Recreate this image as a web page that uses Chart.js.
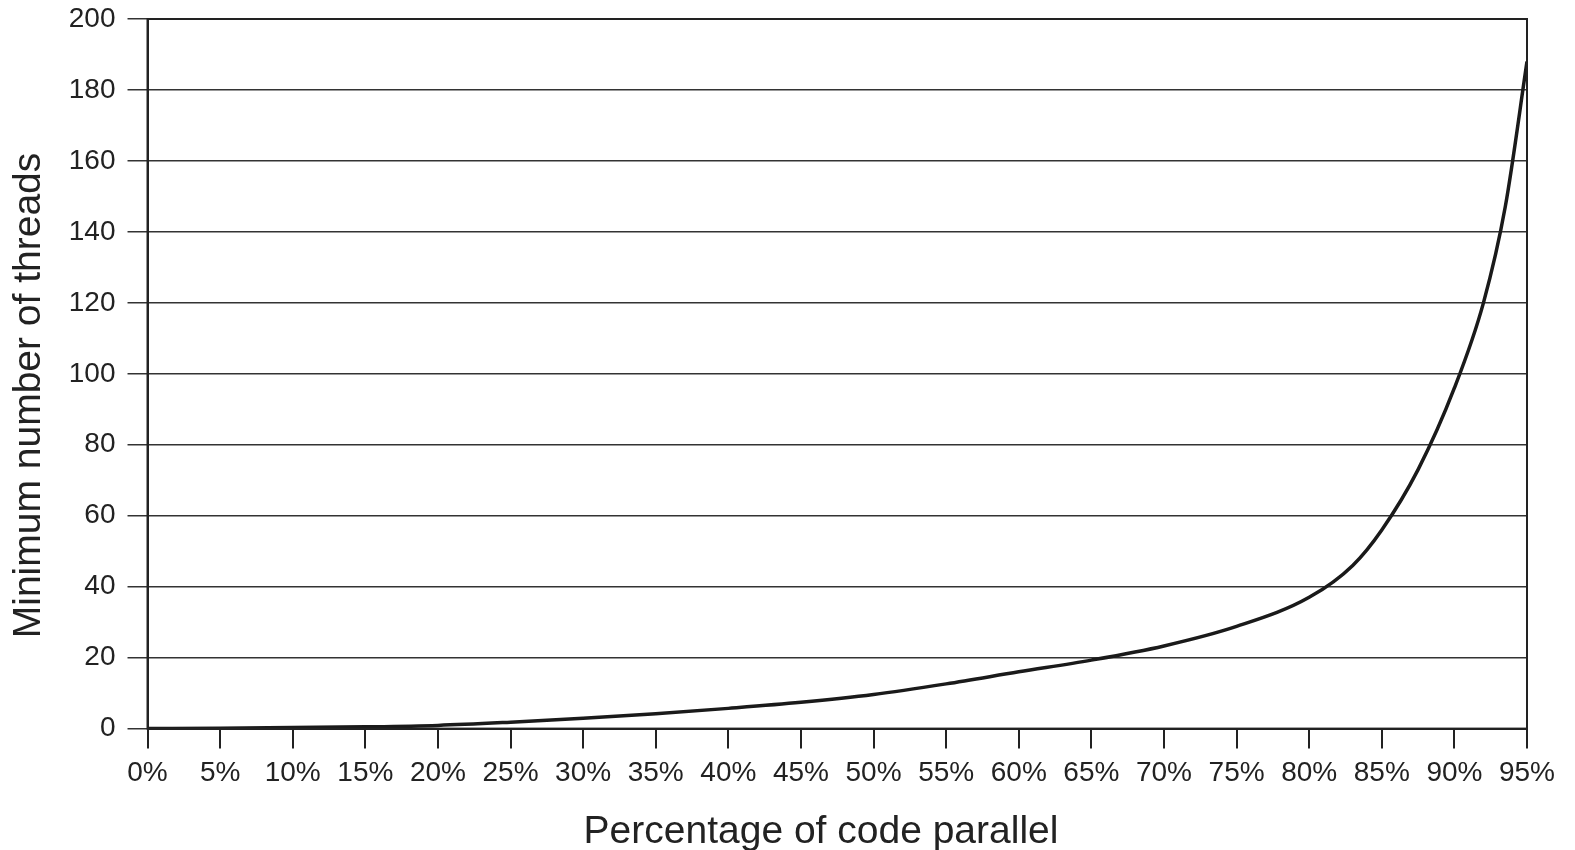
<!DOCTYPE html>
<html>
<head>
<meta charset="utf-8">
<script src="https://cdn.jsdelivr.net/npm/chart.js@4.4.1/dist/chart.umd.min.js"></script>
<style>
  html, body { margin: 0; padding: 0; background: #fff; }
  #wrap { width: 1575px; height: 850px; }
</style>
</head>
<body>
<div id="wrap"><canvas id="grafico"></canvas></div>
<script>
// porcentaje de codigo paralelo (eje x) y minimo de hilos (eje y)
const porcentajes = [0, 5, 10, 15, 20, 25, 30, 35, 40, 45, 50, 55, 60, 65, 70, 75, 80, 83, 85, 87.5, 90, 92, 93.5, 95];
const hilos = [0, 0.1, 0.3, 0.5, 0.9, 1.8, 2.9, 4.2, 5.7, 7.4, 9.6, 12.6, 16.0, 19.3, 23.3, 28.8, 37, 46, 56, 73, 96, 120, 147, 188];
const ticksX = [0, 5, 10, 15, 20, 25, 30, 35, 40, 45, 50, 55, 60, 65, 70, 75, 80, 85, 90, 95];
const ticksY = [0, 20, 40, 60, 80, 100, 120, 140, 160, 180, 200];

const puntos = porcentajes.map(function(p, i) { return { x: p, y: hilos[i] }; });

// marco superior y derecho del area del grafico
const marco = {
    id: 'marco',
    afterDraw: function(chart) {
        const a = chart.chartArea;
        const ctx = chart.ctx;
        ctx.save();
        ctx.strokeStyle = '#222';
        ctx.lineWidth = 2;
        ctx.strokeRect(a.left, a.top, a.right - a.left, a.bottom - a.top);
        ctx.restore();
    }
};

const ctx = document.getElementById('grafico').getContext('2d');
new Chart(ctx, {
    type: 'line',
    data: {
        datasets: [{
            data: puntos,
            borderColor: '#1a1a1a',
            borderWidth: 3.5,
            pointRadius: 0,
            fill: false,
            cubicInterpolationMode: 'monotone'
        }]
    },
    options: {
        responsive: true,
        maintainAspectRatio: false,
        animation: false,
        layout: { padding: { left: 6, right: 48, top: 19, bottom: -6 } },
        plugins: { legend: { display: false }, tooltip: { enabled: false } },
        scales: {
            x: {
                type: 'linear',
                min: 0,
                max: 95,
                afterBuildTicks: function(axis) {
                    axis.ticks = ticksX.map(function(v) { return { value: v }; });
                },
                ticks: {
                    callback: function(v) { return v + '%'; },
                    color: '#222',
                    font: { family: 'Liberation Sans', size: 28 },
                    padding: 8,
                    maxRotation: 0,
                    autoSkip: false
                },
                grid: { display: true, drawOnChartArea: false, color: '#222', lineWidth: 2, tickLength: 20 },
                border: { color: '#222', width: 2 },
                title: {
                    display: true,
                    // espacios al final: el titulo queda algo a la izquierda del centro
                    text: 'Percentage of code parallel   ',
                    color: '#222',
                    font: { family: 'Liberation Sans', size: 39 },
                    padding: { top: 11, bottom: 0 }
                }
            },
            y: {
                min: 0,
                max: 200,
                afterBuildTicks: function(axis) {
                    axis.ticks = ticksY.map(function(v) { return { value: v }; });
                },
                ticks: {
                    color: '#222',
                    font: { family: 'Liberation Sans', size: 28, lineHeight: 0.5 },
                    padding: 12
                },
                grid: { color: '#333', lineWidth: 1.5, tickLength: 20 },
                border: { color: '#222', width: 2 },
                title: {
                    display: true,
                    text: 'Minimum number of threads    ',
                    color: '#222',
                    font: { family: 'Liberation Sans', size: 39 },
                    padding: { top: 0, bottom: 4 }
                }
            }
        }
    },
    plugins: [marco]
});
</script>
</body>
</html>
